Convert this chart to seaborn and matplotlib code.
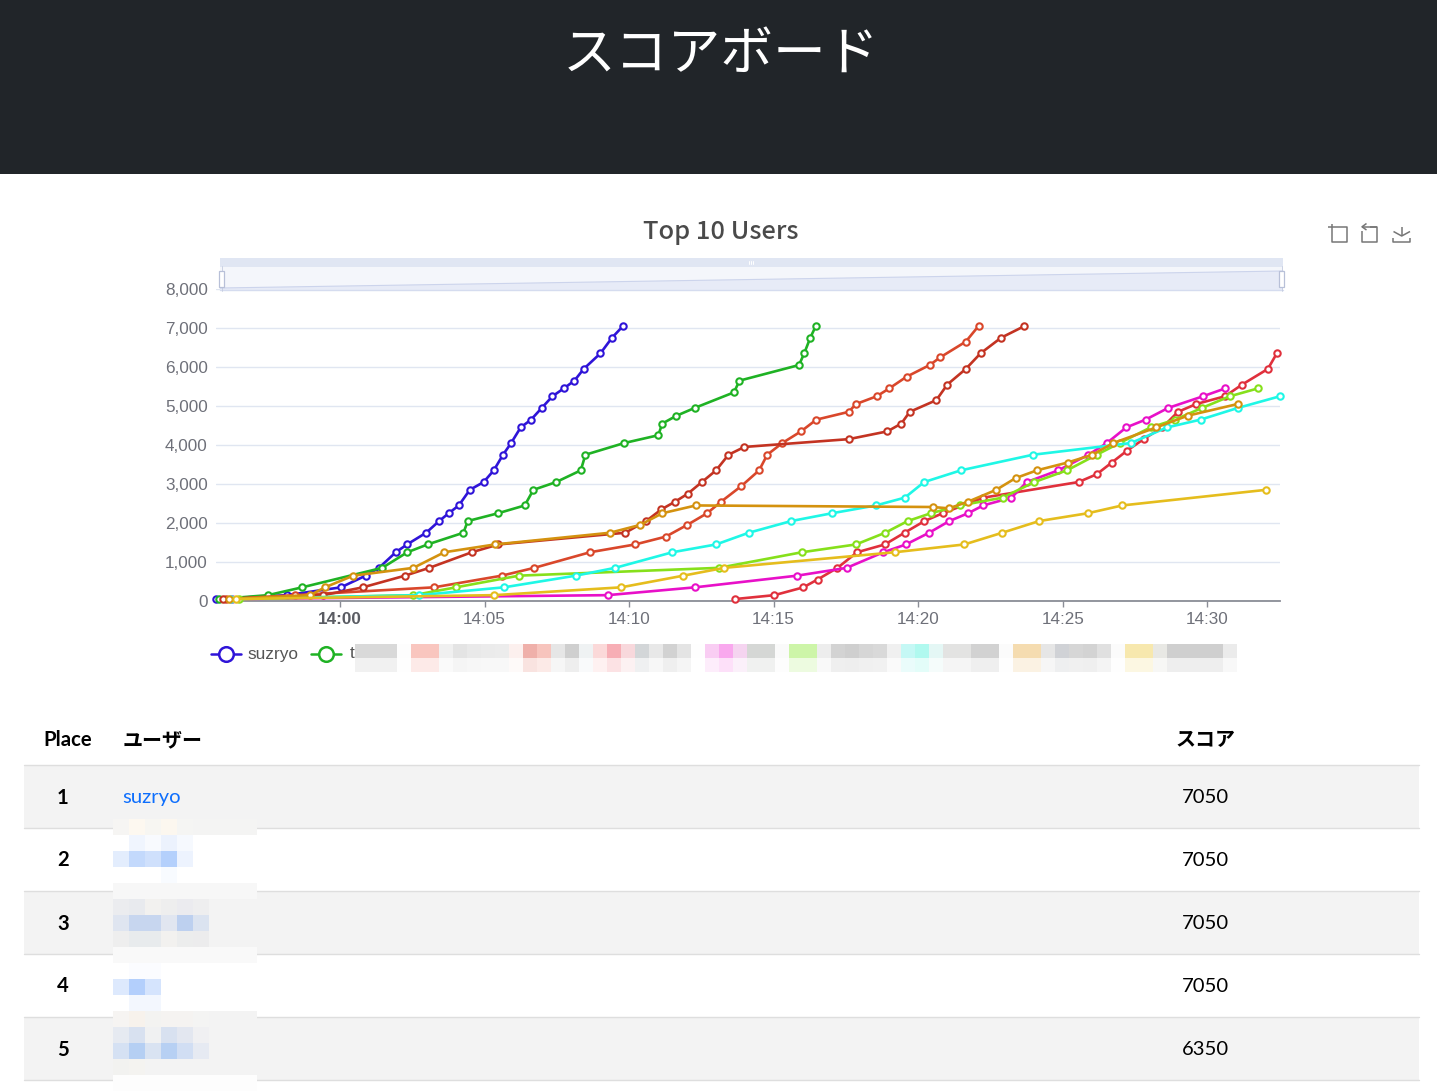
import pandas as pd
import seaborn as sns
import matplotlib.pyplot as plt
import numpy as np
from matplotlib.colors import to_rgb
from matplotlib.patches import Rectangle, Polygon

# time = minutes after 14:00
suzryo_t = [-4.29, -1.84, 0.03, 0.89, 1.35, 1.93, 2.32, 2.98, 3.43, 3.76, 4.11, 4.49, 4.97, 5.32, 5.64, 5.92, 6.25, 6.61, 6.98, 7.35, 7.74, 8.11, 8.43, 9.01, 9.41, 9.79]
suzryo_s = [50, 150, 350, 650, 850, 1250, 1450, 1750, 2050, 2250, 2450, 2850, 3050, 3350, 3750, 4050, 4450, 4650, 4950, 5250, 5450, 5650, 5950, 6350, 6750, 7050]
user2_t = [-4.18, -2.49, -1.31, 1.46, 2.33, 3.03, 4.27, 4.42, 5.47, 6.39, 6.69, 7.48, 8.33, 8.49, 9.83, 11.01, 11.15, 11.64, 12.27, 13.63, 13.82, 15.88, 16.06, 16.27, 16.46]
user2_s = [50, 150, 350, 850, 1250, 1450, 1750, 2050, 2250, 2450, 2850, 3050, 3350, 3750, 4050, 4250, 4550, 4750, 4950, 5350, 5650, 6050, 6350, 6750, 7050]
user3_t = [-3.94, -1.56, 3.25, 5.60, 6.72, 8.65, 10.21, 11.27, 12.01, 12.70, 13.19, 13.89, 14.50, 14.78, 15.30, 15.95, 16.48, 17.60, 17.85, 18.57, 19.00, 19.60, 20.40, 20.77, 21.65, 22.09]
user3_s = [50, 150, 350, 650, 850, 1250, 1450, 1650, 1950, 2250, 2550, 2950, 3350, 3750, 4050, 4350, 4650, 4850, 5050, 5250, 5450, 5750, 6050, 6250, 6650, 7050]
user4_t = [-4.06, -0.58, 0.79, 2.25, 3.09, 4.56, 5.48, 9.87, 10.59, 11.12, 11.60, 12.03, 12.52, 13.01, 13.44, 13.99, 17.60, 18.94, 19.42, 19.71, 20.63, 21.01, 21.65, 22.16, 22.87, 23.68]
user4_s = [50, 150, 350, 650, 850, 1250, 1450, 1750, 2050, 2350, 2550, 2750, 3050, 3350, 3750, 3950, 4150, 4350, 4550, 4850, 5150, 5550, 5950, 6350, 6750, 7050]
user5_t = [13.67, 15.03, 16.03, 16.52, 17.21, 17.89, 18.85, 19.53, 20.22, 20.85, 22.26, 25.55, 26.18, 26.70, 27.22, 27.80, 28.45, 28.99, 29.62, 30.62, 31.21, 32.10, 32.41]
user5_s = [50, 150, 350, 550, 850, 1250, 1450, 1750, 2050, 2250, 2650, 3050, 3250, 3550, 3850, 4150, 4450, 4850, 5050, 5250, 5550, 5950, 6350]
user6_t = [-3.74, 9.26, 12.28, 15.82, 17.53, 18.80, 19.58, 20.38, 21.08, 21.73, 22.25, 23.23, 23.76, 24.85, 25.89, 26.53, 27.20, 27.87, 28.65, 29.86, 30.62]
user6_s = [50, 150, 350, 650, 850, 1250, 1450, 1750, 2050, 2250, 2450, 2650, 3050, 3350, 3750, 4050, 4450, 4650, 4950, 5250, 5450]
user7_t = [-3.49, 2.54, 4.01, 6.19, 13.11, 15.98, 17.85, 18.86, 19.64, 20.44, 21.46, 22.92, 24.02, 25.15, 26.18, 26.97, 28.04, 28.89, 29.82, 30.79, 31.75]
user7_s = [50, 150, 350, 650, 850, 1250, 1450, 1750, 2050, 2250, 2450, 2650, 3050, 3350, 3750, 4050, 4450, 4650, 4950, 5250, 5450]
user8_t = [-3.77, 2.74, 5.67, 8.16, 9.52, 11.50, 13.01, 14.14, 15.61, 17.02, 18.54, 19.54, 20.21, 21.48, 23.97, 27.36, 28.61, 29.77, 31.06, 32.52]
user8_s = [50, 150, 350, 650, 850, 1250, 1450, 1750, 2050, 2250, 2450, 2650, 3050, 3350, 3750, 4050, 4450, 4650, 4950, 5250]
user9_t = [-3.84, -1.04, -0.52, 0.46, 2.54, 3.61, 5.36, 9.34, 10.38, 11.15, 12.31, 20.51, 21.07, 21.74, 22.70, 23.37, 24.11, 25.17, 26.03, 26.75, 28.24, 29.32, 31.05]
user9_s = [50, 150, 350, 650, 850, 1250, 1450, 1750, 1950, 2250, 2450, 2410, 2375, 2550, 2850, 3150, 3350, 3550, 3750, 4050, 4450, 4750, 5050]
user10_t = [-3.60, 5.34, 9.72, 11.88, 13.29, 19.19, 21.60, 22.91, 24.19, 25.87, 27.06, 32.03]
user10_s = [50, 150, 350, 650, 850, 1250, 1450, 1750, 2050, 2250, 2450, 2850]

series = [
    (suzryo_t, suzryo_s, '#2f14d8'),
    (user2_t, user2_s, '#1fb224'),
    (user3_t, user3_s, '#d9472b'),
    (user4_t, user4_s, '#c33322'),
    (user5_t, user5_s, '#e0303c'),
    (user6_t, user6_s, '#e810c8'),
    (user7_t, user7_s, '#86e01b'),
    (user8_t, user8_s, '#1ff7e6'),
    (user9_t, user9_s, '#d4920f'),
    (user10_t, user10_s, '#e5bd1d'),
]

x_ticks = [0, 5, 10, 15, 20, 25, 30]
x_labels = ['14:00', '14:05', '14:10', '14:15', '14:20', '14:25', '14:30']
y_ticks = [0, 1000, 2000, 3000, 4000, 5000, 6000, 7000, 8000]

places = ['1', '2', '3', '4', '5']
users = ['suzryo', '', '', '', '']
scores = ['7050', '7050', '7050', '7050', '6350']

# pixelated legend names, one colour per 14px cell
legend_blur = ['#d9d9d9', '#d9d9d9', '#d9d9d9', '#fdfdfd', '#f9c6bf', '#f9c6bf', '#f0f0f0', '#e4e4e4', '#e9e9e9', '#ebebeb', '#ececec',
               '#fcf0ee', '#efb0aa', '#f7c4bd', '#e6e6e6', '#cfcfcf', '#eff2f3', '#fbd9d9', '#f7aeb5', '#f8d8dc', '#d3d6d8', '#e8e8e8',
               '#d2d2d2', '#e4e4e4', '#fefefe', '#f9cdf3', '#f9a8ee', '#f5d4f0', '#d5d7d5', '#d5d7d5', '#fafafa', '#cdf5a8', '#cdf5a8',
               '#ededed', '#d3d3d3', '#cfcfcf', '#d6d6d6', '#d9d9d9', '#f0f0f0', '#c5f8f5', '#b0f9ef', '#e4f7f5', '#e3e3e2', '#e3e3e2',
               '#d2d2d2', '#d2d2d2', '#fbfbfb', '#f5dcb0', '#f5dcb0', '#e6e6e6', '#d0d2d6', '#d6d6d6', '#d3d3d3', '#e0e0e0', '#fbfbfb',
               '#f7e8ae', '#f7e8ae', '#e8e8e4', '#cfcfcf', '#cfcfcf', '#cfcfcf', '#cfcfcf', '#ebebeb']

# pixelated user names in the table, 16px cells
G = '#f3f3f3'
W = '#ffffff'
table_blur = [
    ['#f6f5f3', '#fdf8f0', '#f7f6f2', '#fcf7ef', '#f5f5f3', '#f4f4f3', '#f4f4f3', '#f4f4f3', '#f4f4f3'],
    [W, '#f0f5fe', '#f8fafe', '#ecf2fd', '#f6f9fe', W, W, W, W],
    ['#e3edfd', '#c3d9fc', '#cfe0fc', '#b4d0fc', '#edf3fe', W, W, W, W],
    [W, W, W, '#f8fbff', W, W, W, W, W],
    ['#f7f7f7'] * 9,
    ['#ebecef', '#e8eaee', '#f2f1ef', '#eeeeee', '#ebebef', '#eeeeef', G, G, G],
    ['#dfe5f0', '#c7d6ef', '#c7d6ef', '#e1e6f0', '#bdd0ef', '#dbe3f0', G, G, G],
    ['#eeeeee', '#e8ebed', '#e8ebed', '#f2f1ef', '#eceded', '#ececed', G, G, G],
    ['#f9f9f9'] * 9,
    [W, '#fbfcff', '#fbfcff', W, W, W, W, W, W],
    ['#dde9fd', '#b3cffc', '#d5e4fd', W, W, W, W, W, W],
    [W, '#f3f7fe', '#f3f7fe', W, W, W, W, W, W],
    ['#f6f4f2', '#f7f2ec', '#f3f3f1', '#f5f3f1', '#f5f3f1', '#f4f4f3', G, G, G],
    ['#e6eaf1', '#d8e1f0', '#f0f1f2', '#d8e1f0', '#e3e7f0', '#f0f0f2', G, G, G],
    ['#d5e1f3', '#b5cff3', '#d9e3f2', '#b7d0f3', '#d1def3', '#e6eaf2', G, G, G],
    ['#f2f2f0', '#f4f3f0', G, G, G, G, G, G, G],
    ['#fdfdfd'] * 9,
]

sns.set_style('white')
W_PX, H_PX = 1437, 1092
fig = plt.figure(figsize=(W_PX / 100, H_PX / 100), dpi=100)
plt.rcParams['font.family'] = ['Liberation Sans', 'Noto Sans CJK JP', 'DejaVu Sans']
TABLE_FONT = ['Lato', 'Noto Sans CJK JP', 'DejaVu Sans']

# chart
ax = fig.add_axes([216 / W_PX, 1 - 601 / H_PX, (1280 - 216) / W_PX, (601 - 289) / H_PX])
for t, s, color in series:
    df = pd.DataFrame({'t': t, 'score': s})
    sns.lineplot(data=df, x='t', y='score', color=color, ax=ax, estimator=None, sort=False, errorbar=None,
                 linewidth=1.9, marker='o', markersize=4.6, markerfacecolor='white',
                 markeredgecolor=color, markeredgewidth=1.5, clip_on=False, zorder=3)
ax.set_xlim(-4.29, 32.52)
ax.set_ylim(0, 8000)
ax.set_xlabel('')
ax.set_ylabel('')
ax.set_yticks(y_ticks)
ax.set_yticklabels([f'{v:,}' for v in y_ticks], fontsize=12.3, color='#6e7079')
ax.set_xticks(x_ticks)
ax.set_xticklabels(x_labels, fontsize=12.3, color='#6e7079')
ax.get_xticklabels()[0].set_fontweight('bold')
ax.get_xticklabels()[0].set_color('#5a5c63')
ax.tick_params(axis='y', length=0, pad=6)
ax.tick_params(axis='x', length=4, width=1, color='#8a8d96', pad=4, bottom=True)
ax.grid(axis='y', color='#e0e6f1', linewidth=1)
ax.set_axisbelow(True)
sns.despine(ax=ax, left=True, top=True, right=True)
ax.spines['bottom'].set_color('#8a8d96')
ax.spines['bottom'].set_linewidth(1.3)
ax.patch.set_alpha(0)

# everything around the chart, in page pixels
page = fig.add_axes([0, 0, 1, 1], zorder=5)
page.set_xlim(0, W_PX)
page.set_ylim(H_PX, 0)
page.axis('off')

page.add_patch(Rectangle((0, 0), W_PX, 174, color='#212529', lw=0))
page.text(721, 54, 'スコアボード', color='white', fontsize=38, ha='center', va='center', family='Noto Sans CJK JP')
page.text(721, 232, 'Top 10 Users', color='#4a4a4a', fontsize=18.3, fontweight='medium', ha='center', va='center',
          family='Noto Sans CJK JP')

# toolbox icons
icon = dict(color='#767676', lw=1.1, solid_capstyle='butt')
page.plot([1336, 1346.7, 1346.7, 1331.7, 1331.7], [227.3, 227.3, 242.3, 242.3, 231], **icon)
page.plot([1328, 1336], [227.3, 227.3], **icon)
page.plot([1331.7, 1331.7], [223.5, 231], **icon)
page.plot([1370, 1377.3, 1377.3, 1362, 1362], [227.3, 227.3, 242.3, 242.3, 231], **icon)
page.plot([1366.5, 1362, 1366.5], [223.5, 226.8, 230], **icon)
page.plot([1362, 1377.3], [226.8, 226.8], **icon)
page.plot([1401.7, 1401.7], [226.5, 236], **icon)
page.plot([1393.5, 1401.7, 1410], [226.5 + 5, 236, 226.5 + 5], **icon)
page.plot([1393, 1393, 1410, 1410], [238, 242.3, 242.3, 238], **icon)

# slider above the plot
page.add_patch(Rectangle((220, 258), 1063, 9, color='#e0e6f3', lw=0))
page.add_patch(Rectangle((220, 267), 1063, 23, color='#f4f6fb', lw=0))
page.add_patch(Polygon([(220, 288), (1283, 271), (1283, 290), (220, 290)], color='#e7ebf7', lw=0))
page.plot([220, 1283], [288, 271], color='#ccd4ec', lw=0.8)
page.plot([220, 1283], [290, 290], color='#d5dcef', lw=1)
for hx in [221.5, 1281.5]:
    page.add_patch(Rectangle((hx - 2.5, 270.5), 5, 16, facecolor='white', edgecolor='#b8c0d8', lw=0.9, zorder=3))
    page.plot([hx, hx], [266, 291], color='#c5cce0', lw=0.6)
for gx in [749, 751, 753]:
    page.plot([gx, gx], [260.5, 264], color='white', lw=0.7)

# legend
for lx, c in [(211, '#2f14d8'), (311, '#1fb224')]:
    page.plot([lx, lx + 30], [654, 654], color=c, lw=1.8)
    page.plot(lx + 15, 654, 'o', ms=10.5, mfc='white', mec=c, mew=1.8)
page.text(247, 654, 'suzryo', fontsize=12.4, color='#555555', va='center')
page.text(350, 654, 't', fontsize=12.4, color='#555555', va='center')
for i, c in enumerate(legend_blur):
    page.add_patch(Rectangle((355 + i * 14, 644), 14.1, 14, color=c, lw=0))
    light = 1 - (1 - np.array(to_rgb(c))) * 0.36
    page.add_patch(Rectangle((355 + i * 14, 658), 14.1, 14, color=tuple(light), lw=0))

# table
page.text(68, 740, 'Place', fontsize=14.6, fontweight='bold', ha='center', va='center', color='black', family=TABLE_FONT)
page.text(123, 740, 'ユーザー', fontsize=14.4, fontweight='bold', va='center', color='black', family=TABLE_FONT)
page.text(1205, 740, 'スコア', fontsize=14.4, fontweight='bold', ha='center', va='center', color='black', family=TABLE_FONT)
page.plot([24, 1419], [764.5, 764.5], color='#dedede', lw=1)
for i, (p, u, s) in enumerate(zip(places, users, scores)):
    top = 764.5 + i * 63
    if i % 2 == 0:
        page.add_patch(Rectangle((24, top), 1395, 63, color=G, lw=0))
    page.plot([24, 1419], [top + 63, top + 63], color='#dedede', lw=1)
    mid = top + 33
    page.text(63, mid, p, fontsize=14.6, fontweight='bold', ha='center', va='center', color='black', family=TABLE_FONT)
    if u:
        page.text(122.5, mid, u, fontsize=14.6, va='center', color='#0d6efd', family=TABLE_FONT)
    page.text(1205, mid, s, fontsize=14.6, ha='center', va='center', color='black', family=TABLE_FONT)

for r, row in enumerate(table_blur):
    for c, color in enumerate(row):
        page.add_patch(Rectangle((112.7 + c * 16, 819 + r * 16), 16.1, 16.1, color=color, lw=0, zorder=4))

plt.savefig('out.png', dpi=100)
